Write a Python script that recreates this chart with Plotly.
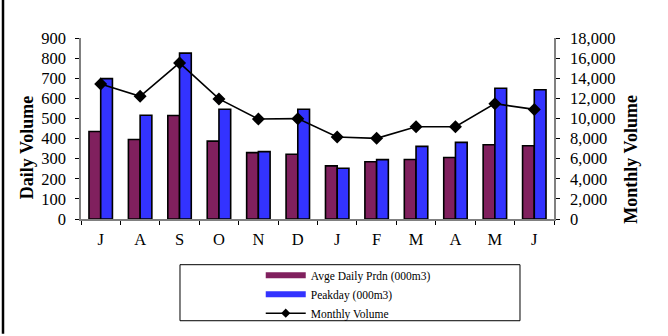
import plotly.graph_objects as go

months = ["J", "A", "S", "O", "N", "D", "J", "F", "M", "A", "M", "J"]
avg_daily = [435, 395, 515, 387, 330, 322, 264, 285, 296, 306, 369, 364]
peakday = [698, 516, 825, 546, 335, 546, 252, 295, 361, 381, 650, 643]
monthly_volume = [13420, 12200, 15520, 11940, 9940, 9980, 8150, 8020, 9180, 9180, 11470, 10900]

x = list(range(len(months)))
FONT = "Liberation Serif, Times New Roman, serif"

fig = go.Figure()
fig.add_trace(go.Bar(x=x, y=avg_daily, name="Avge Daily Prdn (000m3)",
                     marker=dict(color="#80205E", line=dict(color="black", width=1.6)),
                     showlegend=False))
fig.add_trace(go.Bar(x=x, y=peakday, name="Peakday (000m3)",
                     marker=dict(color="#3333FF", line=dict(color="black", width=1.6)),
                     showlegend=False))
fig.add_trace(go.Scatter(x=x, y=monthly_volume, name="Monthly Volume", yaxis="y2",
                         mode="lines+markers",
                         line=dict(color="black", width=1.6),
                         marker=dict(symbol="diamond", size=10, color="black"),
                         showlegend=False))
# legend entries
fig.add_trace(go.Scatter(x=[None], y=[None], name="Avge Daily Prdn (000m3)", mode="lines",
                         line=dict(color="#80205E", width=6)))
fig.add_trace(go.Scatter(x=[None], y=[None], name="Peakday (000m3)", mode="lines",
                         line=dict(color="#3333FF", width=6)))
fig.add_trace(go.Scatter(x=[None], y=[None], name="Monthly Volume", mode="lines+markers",
                         line=dict(color="black", width=1.5),
                         marker=dict(symbol="diamond", size=7, color="black")))

bounds = [i - 0.5 for i in range(len(months) + 1)]

fig.update_layout(
    width=668, height=336,
    margin=dict(l=81, r=114, t=38, b=117, autoexpand=False),
    paper_bgcolor="white", plot_bgcolor="white",
    font=dict(family=FONT, size=16, color="black"),
    barmode="group", bargap=0.405, bargroupgap=0,
    xaxis=dict(range=[-0.5, 11.5], tickvals=x, ticktext=months, ticks="",
               showline=True, linecolor="#808080", linewidth=1.5, showgrid=False, zeroline=False,
               minor=dict(tickvals=bounds, ticks="outside", ticklen=4, tickcolor="black", tickwidth=1),
               tickfont=dict(size=16.5), ticklabelstandoff=4),
    xaxis2=dict(overlaying="x", range=[-0.5, 11.5], tickvals=bounds, ticks="inside", ticklen=4,
                tickcolor="black", showticklabels=False, showline=False, showgrid=False,
                zeroline=False, anchor="y"),
    yaxis=dict(range=[0, 900], tickvals=list(range(0, 901, 100)), ticks="outside", ticklen=4,
               tickcolor="black", showline=True, linecolor="#808080", linewidth=1.5,
               showgrid=False, zeroline=False, tickfont=dict(size=16.5), ticklabelstandoff=6),
    yaxis2=dict(range=[0, 18000], tickvals=list(range(0, 18001, 2000)), overlaying="y", side="right",
                ticks="outside", ticklen=4, tickcolor="black", showline=True, linecolor="#808080",
                linewidth=1.5, showgrid=False, zeroline=False, tickformat=",d",
                tickfont=dict(size=16.5), ticklabelstandoff=7),
    yaxis3=dict(range=[0, 900], tickvals=list(range(0, 901, 100)), overlaying="y", side="left",
                ticks="inside", ticklen=4, tickcolor="black", showticklabels=False,
                showline=False, showgrid=False, zeroline=False, anchor="x"),
    yaxis4=dict(range=[0, 18000], tickvals=list(range(0, 18001, 2000)), overlaying="y", side="right",
                ticks="inside", ticklen=4, tickcolor="black", showticklabels=False,
                showline=False, showgrid=False, zeroline=False, anchor="x"),
    legend=dict(x=0.38, y=-0.23, xanchor="left", yanchor="top", bgcolor="rgba(0,0,0,0)",
                borderwidth=0, font=dict(size=11.5, family=FONT), itemwidth=40, tracegroupgap=0),
    shapes=[
        dict(type="rect", xref="paper", yref="paper", x0=0.2093, x1=0.9281, y0=-0.562, y1=-0.2525,
             line=dict(color="black", width=1)),
        dict(type="line", xref="paper", yref="paper", x0=-0.1649, x1=-0.1649, y0=-0.634, y1=1.2116,
             line=dict(color="black", width=2.5)),
    ],
    annotations=[
        dict(text="<b>Daily Volume</b>", xref="paper", yref="paper", x=-0.114, y=0.397,
             xanchor="center", yanchor="middle",
             textangle=-90, showarrow=False, font=dict(size=18, family=FONT)),
        dict(text="<b>Monthly Volume</b>", xref="paper", yref="paper", x=1.1628, y=0.328,
             xanchor="center", yanchor="middle",
             textangle=-90, showarrow=False, font=dict(size=18, family=FONT)),
    ],
)

fig.write_html("out.html", config={"displayModeBar": False},
               post_script="document.body.style.margin='0';document.body.style.overflow='hidden';")
